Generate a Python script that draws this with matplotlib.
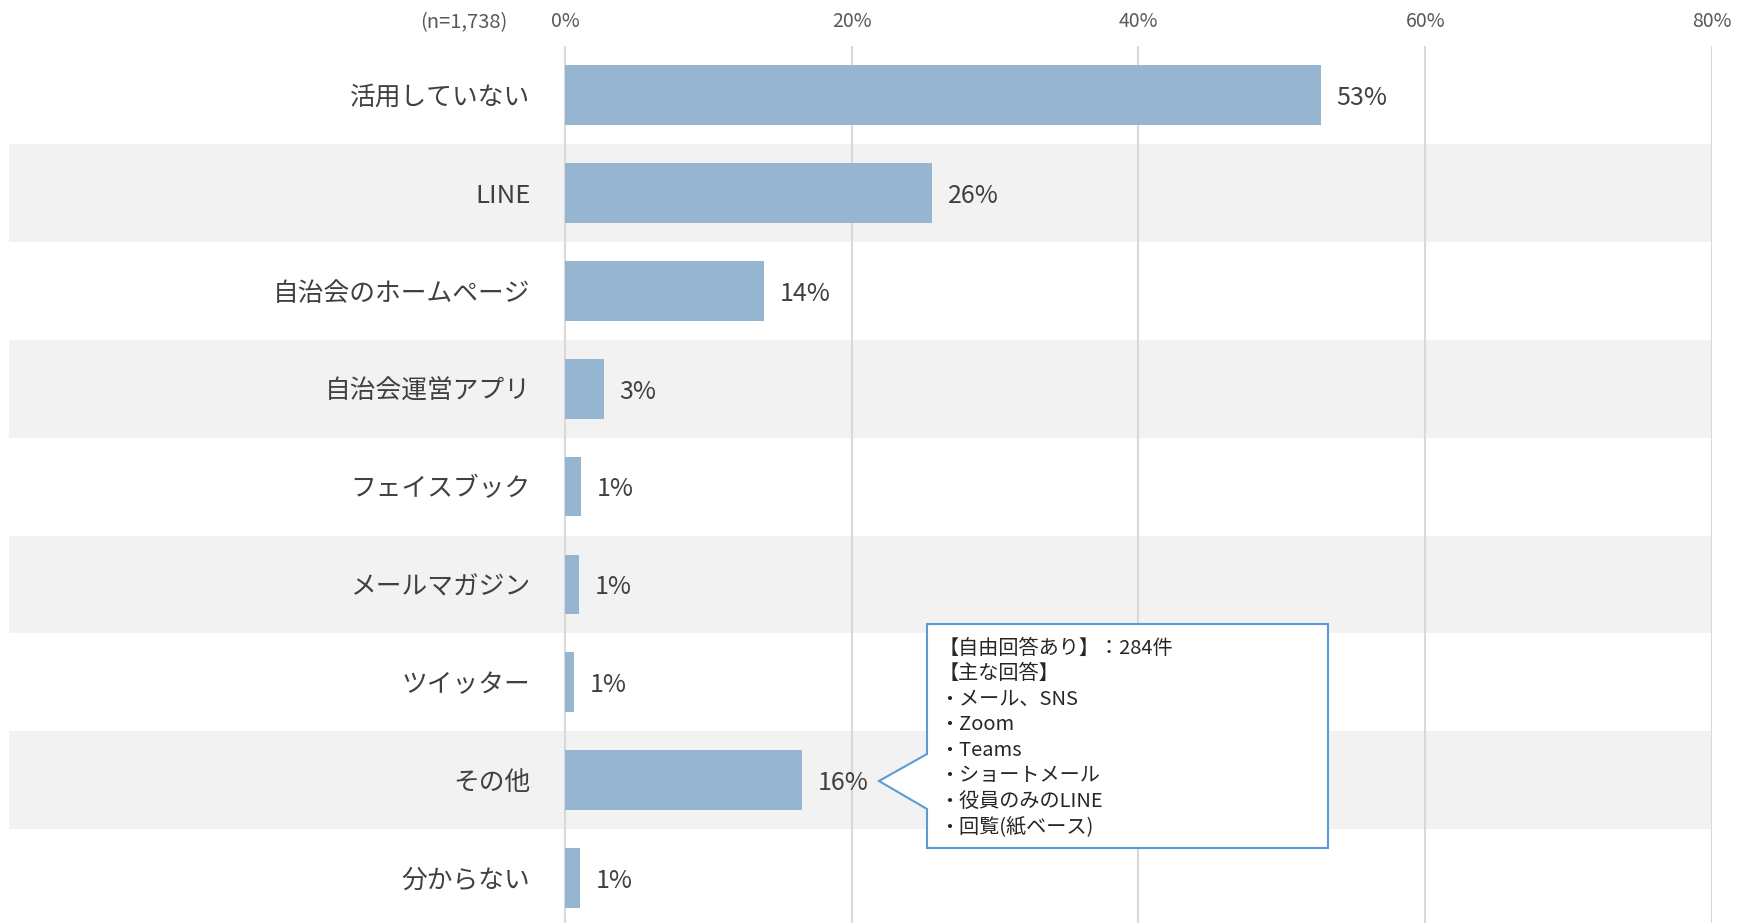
import matplotlib.pyplot as plt
from matplotlib.patches import Polygon

plt.rcParams['font.family'] = ['Noto Sans CJK JP', 'DejaVu Sans']

# Data
categories = ["活用していない", "LINE", "自治会のホームページ", "自治会運営アプリ", "フェイスブック",
              "メールマガジン", "ツイッター", "その他", "分からない"]
values = [52.7, 25.6, 13.9, 2.7, 1.1, 1.0, 0.6, 16.5, 1.05]
labels = ["53%", "26%", "14%", "3%", "1%", "1%", "1%", "16%", "1%"]
ticks = [0, 20, 40, 60, 80]
note_lines = ["【自由回答あり】：284件", "【主な回答】", "・メール、SNS", "・Zoom", "・Teams",
              "・ショートメール", "・役員のみのLINE", "・回覧(紙ベース)"]

W, H = 1738, 923
BAR = "#95b5d1"
BAND = "#f2f2f2"
GRID = "#d9d9d9"
TXT = "#404040"


def fx(x):
    return x / W


def fy(y):
    return 1 - y / H


fig = plt.figure(figsize=(W / 100, H / 100), dpi=100)
# axes spans from the band left edge to the 80% gridline; 0% sits at x=565px
left_px, right_px, top_px, row_h = 9, 1712, 46, 97.9
ax = fig.add_axes([fx(left_px), fy(top_px + row_h * 9), fx(right_px - left_px), row_h * 9 / H])
scale = (right_px - 565) / 80.0
ax.set_xlim(-(565 - left_px) / scale, 80)
ax.set_ylim(len(categories) - 0.5, -0.5)

for i in range(len(categories)):
    if i % 2 == 1:
        ax.axhspan(i - 0.5, i + 0.5, color=BAND, zorder=0, lw=0)

for t in ticks:
    ax.axvline(t, color=GRID, lw=1.5, zorder=1)

ys = range(len(categories))
ax.barh(ys, values, height=0.61, color=BAR, zorder=2)
for y, v, lab, cat in zip(ys, values, labels, categories):
    ax.text(v + 1.1, y + 0.03, lab, va="center", ha="left", fontsize=18, color=TXT, zorder=3)
    ax.text(-2.4, y + 0.03, cat, va="center", ha="right", fontsize=18.5, color=TXT, zorder=3)

ax.set_yticks([])
ax.xaxis.tick_top()
ax.set_xticks(ticks)
ax.set_xticklabels([f"{t}%" for t in ticks], fontsize=14, color="#595959")
ax.tick_params(axis="x", length=0, pad=10)
for s in ax.spines.values():
    s.set_visible(False)

fig.text(fx(507), fy(23), "(n=1,738)", ha="right", va="center", fontsize=14.5, color="#595959")

# Callout box for その他
box = [(927, 624), (1328, 624), (1328, 848), (927, 848), (927, 809), (879, 781), (927, 754)]
poly = Polygon([(fx(x), fy(y)) for x, y in box], closed=True, transform=fig.transFigure,
               facecolor="white", edgecolor="#5b9bd5", lw=1.5, zorder=5)
fig.patches.append(poly)
for k, line in enumerate(note_lines):
    fig.text(fx(939), fy(648 + k * 25.6), line, ha="left", va="center", fontsize=14.5,
             color="#262626", zorder=6)

fig.savefig("out.png", dpi=100)
